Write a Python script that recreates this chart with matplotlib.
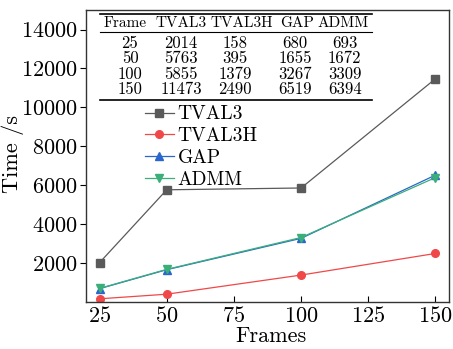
import matplotlib.pyplot as plt

plt.rcParams["font.family"] = ["cmr10", "DejaVu Serif"]
plt.rcParams["axes.formatter.use_mathtext"] = True
plt.rcParams["mathtext.fontset"] = "cm"

frames = [25, 50, 100, 150]
tval3 = [2014, 5763, 5855, 11473]
tval3h = [158, 395, 1379, 2490]
gap = [680, 1655, 3267, 6519]
admm = [693, 1672, 3309, 6394]

headers = ["Frame", "TVAL3", "TVAL3H", "GAP", "ADMM"]
series = [
    ("TVAL3", tval3, "#5a5a5a", "s"),
    ("TVAL3H", tval3h, "#f04848", "o"),
    ("GAP", gap, "#2a66cc", "^"),
    ("ADMM", admm, "#3aaf7a", "v"),
]

fig = plt.figure(figsize=(4.53, 3.49), dpi=100)
ax = fig.add_axes([0.19, 0.135, 0.801, 0.836])

for name, vals, color, marker in series:
    ax.plot(frames, vals, color=color, marker=marker, markersize=5.5, linewidth=0.9, label=name)

ax.set_xlim(20, 155)
ax.set_ylim(0, 15000)
ax.set_xticks([25, 50, 75, 100, 125, 150])
ax.set_yticks(range(2000, 14001, 2000))
ax.tick_params(axis="x", direction="in", labelsize=16, length=4, pad=3)
ax.tick_params(axis="y", direction="out", labelsize=16, length=4, pad=2)
ax.set_xlabel("Frames", fontsize=16)
ax.set_ylabel("Time /s", fontsize=16)
ax.xaxis.set_label_coords(0.51, -0.083)
ax.yaxis.set_label_coords(-0.17, 0.507)
for sp in ax.spines.values():
    sp.set_linewidth(1.0)
    sp.set_color("#333333")

# booktabs style table in the top area
head_x = [0.108, 0.262, 0.430, 0.581, 0.709]
col_x = [0.121, 0.262, 0.410, 0.576, 0.713]
row_y = [0.887, 0.834, 0.780, 0.728]
ax.plot([0.039, 0.788], [0.986, 0.986], transform=ax.transAxes, color="black", linewidth=1.2)
ax.plot([0.039, 0.788], [0.925, 0.925], transform=ax.transAxes, color="black", linewidth=0.8)
ax.plot([0.039, 0.788], [0.692, 0.692], transform=ax.transAxes, color="black", linewidth=1.2)
for x, h in zip(head_x, headers):
    ax.text(x, 0.955, h, transform=ax.transAxes, ha="center", va="center", fontsize=11)
cols = [frames, tval3, tval3h, gap, admm]
for i, y in enumerate(row_y):
    for x, col in zip(col_x, cols):
        ax.text(x, y, str(col[i]), transform=ax.transAxes, ha="center", va="center", fontsize=12)

ax.legend(loc="upper left", bbox_to_anchor=(0.14, 0.70), frameon=False, fontsize=14,
          handlelength=1.5, handletextpad=0.2, labelspacing=0.2, borderaxespad=0)

fig.savefig("out.png", dpi=100)
